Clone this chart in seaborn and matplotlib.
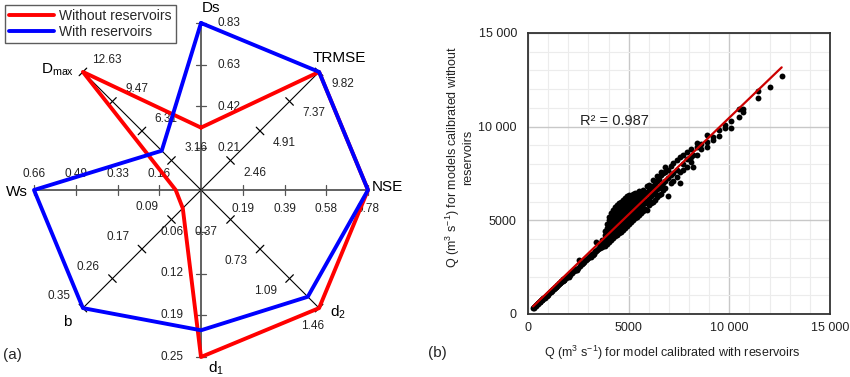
import numpy as np
import pandas as pd
import matplotlib
matplotlib.use("Agg")
import matplotlib.pyplot as plt
import seaborn as sns

sns.set_style("white")
plt.rcParams['font.family'] = ['Liberation Sans', 'DejaVu Sans']
plt.rcParams['mathtext.fontset'] = 'custom'
plt.rcParams['mathtext.rm'] = 'Liberation Sans'
plt.rcParams['mathtext.it'] = 'Liberation Sans:italic'

# -------- (a) radar data --------
metrics = ['Ds', 'TRMSE', 'NSE', 'd2', 'd1', 'b', 'Ws', 'Dmax']
metric_labels = ['Ds', 'TRMSE', 'NSE', 'd$_2$', 'd$_1$', 'b', 'Ws', r'D$_{\mathrm{max}}$']
axis_max = [0.83, 9.82, 0.78, 1.46, 0.25, 0.35, 0.66, 12.63]
axis_ticks = [
    ['0.21', '0.42', '0.63', '0.83'],
    ['2.46', '4.91', '7.37', '9.82'],
    ['0.19', '0.39', '0.58', '0.78'],
    ['0.37', '0.73', '1.09', '1.46'],
    ['0.06', '0.12', '0.19', '0.25'],
    ['0.09', '0.17', '0.26', '0.35'],
    ['0.16', '0.33', '0.49', '0.66'],
    ['3.16', '6.31', '9.47', '12.63'],
]
without_res = [0.31, 9.82, 0.78, 1.46, 0.25, 0.054, 0.10, 12.63]
with_res = [0.83, 9.82, 0.78, 1.32, 0.21, 0.35, 0.66, 4.2]

# -------- (b) scatter data --------
q_with = [
    300, 350, 400, 450, 500, 600, 700, 800, 900, 1000,
    1100, 1200, 1300, 1400, 1500, 1600, 1700, 1800, 1900, 2000,
    2100, 2200, 2300, 2400, 2500, 2600, 2700, 2800, 2900, 3000,
    3100, 3200, 3300, 3400, 3500, 2530, 3380, 2050, 2450, 3250,
    250, 550, 650, 750, 850, 950, 1150, 1250, 1350, 1450,
    1550, 1650, 1750, 1850, 1950, 2150, 2250, 2350, 2650, 2850,
    3050, 3150, 3350, 3450, 2750, 2950, 3550, 3650, 3150, 3300,
    280, 320, 380, 420, 480, 520, 580, 620, 680, 720,
    780, 820, 880, 920, 980, 1050, 1120, 1180, 1250, 1320,
    1380, 1450, 1520, 1580, 1650, 1720, 1780, 1850, 1920, 1980,
    3600, 3600, 3600,
    3700, 3700, 3700, 3700,
    3800, 3800, 3800, 3800, 3800,
    3900, 3900, 3900, 3900, 3900, 3900,
    4000, 4000, 4000, 4000, 4000, 4000, 4000,
    4100, 4100, 4100, 4100, 4100, 4100, 4100,
    4200, 4200, 4200, 4200, 4200, 4200, 4200,
    4300, 4300, 4300, 4300, 4300, 4300, 4300,
    4400, 4400, 4400, 4400, 4400, 4400, 4400,
    4500, 4500, 4500, 4500, 4500, 4500, 4500,
    4600, 4600, 4600, 4600, 4600, 4600, 4600,
    4700, 4700, 4700, 4700, 4700, 4700, 4700,
    4800, 4800, 4800, 4800, 4800, 4800, 4800,
    4900, 4900, 4900, 4900, 4900, 4900, 4900,
    5000, 5000, 5000, 5000, 5000, 5000, 5000,
    5100, 5100, 5100, 5100, 5100, 5100,
    5200, 5200, 5200, 5200, 5200, 5200,
    5300, 5300, 5300, 5300, 5300, 5300,
    5400, 5400, 5400, 5400, 5400,
    5500, 5500, 5500, 5500, 5500,
    5600, 5600, 5600, 5600,
    5700, 5700, 5700, 5700,
    5800, 5800, 5800,
    5900, 5900, 5900, 5900,
    6000, 6000, 6000, 6000,
    6100, 6100, 6100,
    6200, 6200, 6200, 6200,
    6300, 6300, 6300,
    6400, 6400, 6400, 6400,
    6500, 6500, 6500,
    6600, 6600, 6600, 6600,
    6700, 6700, 6700,
    6800, 6800, 6800, 6800,
    6950, 6950, 6950,
    7100, 7100, 7100,
    7200, 7200, 7200,
    7400, 7400, 7400,
    7550, 7550, 7550,
    7700, 7700, 7700,
    7900, 7900, 7900,
    8100, 8100, 8100,
    8200, 8200,
    8400, 8400, 8400,
    8600, 8600,
    8900, 8900, 8900,
    9200, 9200,
    9500, 9500,
    9800, 9800,
    10100, 10100,
    10500, 10500,
    10700, 10700,
    11400, 11400,
    12000,
    12600,
]
q_without = [
    380, 420, 480, 520, 580, 660, 760, 860, 960, 1070,
    1170, 1260, 1360, 1460, 1550, 1650, 1750, 1840, 1930, 2030,
    2100, 2200, 2290, 2370, 2470, 2570, 2660, 2760, 2860, 2970,
    3080, 3180, 3280, 3380, 3480, 2880, 3840, 1950, 2340, 3160,
    330, 640, 730, 840, 930, 1030, 1250, 1350, 1450, 1550,
    1650, 1750, 1850, 1930, 2020, 2200, 2300, 2400, 2660, 2860,
    3040, 3140, 3340, 3440, 2740, 2940, 3540, 3640, 3040, 3190,
    330, 380, 440, 480, 540, 580, 640, 680, 740, 780,
    840, 880, 940, 980, 1040, 1110, 1180, 1240, 1310, 1380,
    1440, 1510, 1580, 1640, 1710, 1780, 1840, 1910, 1980, 2040,
    3500, 3650, 3750,
    3550, 3700, 3850, 3950,
    3650, 3800, 4000, 4200, 4450,
    3750, 3900, 4100, 4350, 4600, 4800,
    3850, 4000, 4250, 4500, 4750, 5000, 5200,
    3950, 4150, 4400, 4650, 4900, 5150, 5400,
    4050, 4250, 4500, 4800, 5050, 5300, 5550,
    4150, 4350, 4600, 4900, 5150, 5450, 5700,
    4200, 4450, 4700, 5000, 5300, 5550, 5800,
    4300, 4550, 4850, 5100, 5400, 5650, 5900,
    4400, 4650, 4950, 5200, 5500, 5750, 6000,
    4500, 4750, 5050, 5300, 5600, 5850, 6100,
    4600, 4850, 5150, 5400, 5700, 5950, 6200,
    4700, 4950, 5250, 5500, 5800, 6050, 6300,
    4800, 5050, 5350, 5600, 5900, 6150, 6350,
    4900, 5150, 5450, 5750, 6000, 6300,
    5000, 5250, 5550, 5850, 6150, 6400,
    5100, 5400, 5700, 6000, 6300, 6450,
    5200, 5500, 5800, 6100, 6450,
    5300, 5600, 5900, 6250, 6550,
    5400, 5700, 6050, 6400,
    5500, 5850, 6200, 6600,
    5600, 5950, 6350,
    5550, 6050, 6500, 6850,
    5800, 6150, 6600, 6900,
    5900, 6300, 6750,
    6000, 6400, 6850, 7150,
    6100, 6500, 6950,
    6250, 6650, 7100, 7350,
    6350, 6750, 7200,
    6400, 6900, 7400, 7600,
    6600, 7000, 7500,
    6700, 7100, 7600, 7850,
    6300, 7250, 7700,
    7000, 7400, 7900,
    7100, 7550, 8050,
    7300, 7700, 8200,
    7000, 7600, 8380,
    7700, 8000, 8500,
    7850, 8250, 8650,
    8100, 8400, 8800,
    7850, 8500,
    8500, 8900, 9150,
    8800, 9100,
    8900, 9550, 9200,
    9300, 9450,
    9500, 9800,
    9950, 10100,
    9950, 10300,
    10500, 10950,
    10950, 10800,
    11900, 11550,
    12100,
    12700,
]
x_ticks = [0, 5000, 10000, 15000]
x_tick_labels = ['0', '5000', '10 000', '15 000']

fig = plt.figure(figsize=(8.5, 3.77), dpi=100)

# -------- (a) radar --------
ax1 = fig.add_axes([0, 0, 420 / 850, 1])
ax1.set_xlim(-201 / 167, (420 - 201) / 167)
ax1.set_ylim(-(377 - 190) / 167, 190 / 167)
ax1.axis('off')

angles = np.deg2rad(90 - 45 * np.arange(len(metrics)))
tick_len = 0.032
for i, ang in enumerate(angles):
    c, s = np.cos(ang), np.sin(ang)
    straight = i % 2 == 0
    ax1.plot([0, c], [0, s], color='#555555' if straight else 'black',
             lw=1.3 if straight else 0.8, zorder=1)
    # where the tick labels sit: clockwise side of each spoke
    if i == 0:
        dx, dy, ha, va = 0.10, 0.0, 'left', 'center'
    elif i == 2:
        dx, dy, ha, va = 0.0, -0.075, 'center', 'top'
    elif i == 4:
        dx, dy, ha, va = -0.105, 0.0, 'right', 'center'
    elif i == 6:
        dx, dy, ha, va = 0.0, 0.06, 'center', 'bottom'
    else:
        dx, dy, ha, va = 0.145 * np.sign(s), -0.072 * np.sign(c), 'center', 'center'
    for k in range(1, 5):
        r = k / 4
        px, py = r * c, r * s
        ax1.plot([px - tick_len * s, px + tick_len * s], [py + tick_len * c, py - tick_len * c],
                 color='#555555' if straight else 'black', lw=0.9, zorder=1)
        ox, oy = dx, dy
        if i == 3 and k == 4:
            # last d2 label sits just below the end of the spoke
            ox, oy = -0.04, -0.105
        ax1.text(px + ox, py + oy, axis_ticks[i][k - 1],
                 ha=ha, va=va, fontsize=8.5, color='#222222', zorder=2)

label_pos = [(0.06, 1.09), (0.83, 0.79), (1.02, 0.02), (0.77, -0.73),
             (0.04, -1.07), (-0.80, -0.79), (-1.10, -0.01), (-0.86, 0.72)]
label_ha = ['center', 'center', 'left', 'left', 'left', 'center', 'center', 'center']
for (lx, ly), txt, ha in zip(label_pos, metric_labels, label_ha):
    ax1.text(lx, ly, txt, ha=ha, va='center', fontsize=11, color='black')

def radar_xy(values):
    frac = np.array(values) / np.array(axis_max)
    xs = frac * np.cos(angles)
    ys = frac * np.sin(angles)
    return np.append(xs, xs[0]), np.append(ys, ys[0])

xr, yr = radar_xy(without_res)
sns.lineplot(x=xr, y=yr, sort=False, estimator=None, color='#ff0000', lw=2.8, ax=ax1,
             label='Without reservoirs', zorder=3)
xb, yb = radar_xy(with_res)
sns.lineplot(x=xb, y=yb, sort=False, estimator=None, color='#0000ff', lw=2.8, ax=ax1,
             label='With reservoirs', zorder=4)
ax1.get_legend().remove()
handles, labels = ax1.get_legend_handles_labels()
leg = fig.legend(handles, labels, loc='upper left', bbox_to_anchor=(5 / 850, 1 - 5 / 377),
                 frameon=True, fancybox=False, edgecolor='#333333', fontsize=10,
                 handlelength=3.2, borderaxespad=0, borderpad=0.3, labelspacing=0.15,
                 handletextpad=0.4)
leg.get_frame().set_linewidth(1.0)

fig.text(3 / 850, 1 - 355 / 377, '(a)', fontsize=11, ha='left', va='center')

# -------- (b) scatter --------
ax2 = fig.add_axes([528 / 850, (377 - 314) / 377, 302 / 850, 281 / 377])
df = pd.DataFrame({'q_with': q_with, 'q_without': q_without})
sns.regplot(data=df, x='q_with', y='q_without', ax=ax2, ci=None,
            scatter_kws={'s': 18, 'color': 'black', 'linewidths': 0, 'alpha': 1},
            line_kws={'color': '#cc0000', 'lw': 1.6})
ax2.set_xlim(0, 15000)
ax2.set_ylim(0, 15000)
ax2.set_xticks(x_ticks)
ax2.set_xticklabels(x_tick_labels)
ax2.set_yticks(x_ticks)
ax2.set_yticklabels(x_tick_labels)
ax2.set_xticks(np.arange(0, 15001, 1000), minor=True)
ax2.set_yticks(np.arange(0, 15001, 1000), minor=True)
ax2.grid(which='major', color='#c8c8c8', lw=1.0)
ax2.grid(which='minor', color='#ececec', lw=0.8)
ax2.set_axisbelow(True)
ax2.tick_params(which='both', length=0, labelsize=9, colors='#222222')
ax2.tick_params(axis='y', pad=8)
ax2.tick_params(axis='x', pad=6)
for sp in ax2.spines.values():
    sp.set_color('#333333')
    sp.set_linewidth(1.3)
ax2.set_xlabel('')
ax2.set_ylabel('')
fig.text(672 / 850, 1 - 353 / 377, 'Q (m$^{3}$ s$^{-1}$) for model calibrated with reservoirs',
         ha='center', va='center', fontsize=9, color='#222222')
fig.text(459 / 850, 1 - 157 / 377, 'Q (m$^{3}$ s$^{-1}$) for models calibrated without\nreservoirs',
         ha='center', va='center', rotation=90, multialignment='center',
         fontsize=9, color='#222222', linespacing=1.0)
ax2.text(2600, 10300, 'R² = 0.987', fontsize=10.5, ha='left', va='center', color='#222222')
fig.text(428 / 850, 1 - 353 / 377, '(b)', fontsize=11, ha='left', va='center')

fig.savefig('out.png', dpi=100)
